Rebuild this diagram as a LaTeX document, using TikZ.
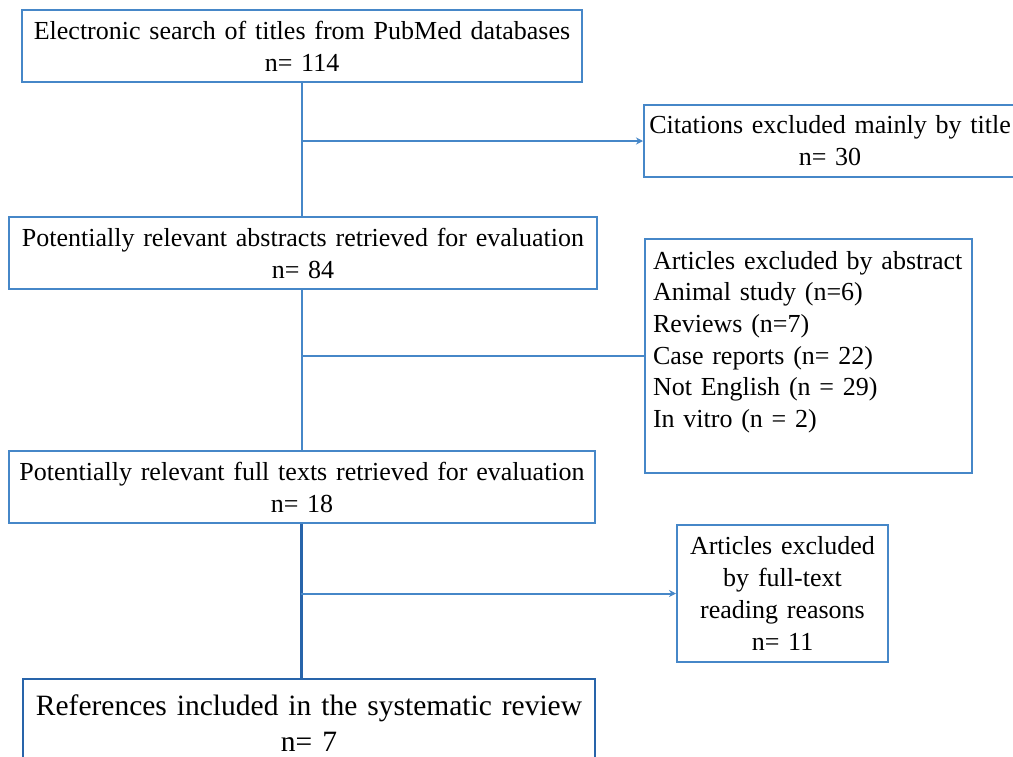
\documentclass[tikz,border=0pt]{standalone}
\usepackage{fontspec}
\setmainfont[WordSpace=1.35]{Liberation Serif}
\usetikzlibrary{arrows.meta}
\definecolor{boxblue}{RGB}{70,135,200}
\definecolor{darkblue}{RGB}{40,100,170}
\tikzset{
  box/.style={draw=boxblue, line width=2pt, fill=white, align=center, inner sep=0pt,
    font=\fontsize{26}{32}\selectfont},
  conn/.style={draw=boxblue, line width=2pt},
  arr/.style={conn, -{Stealth[length=7pt,width=7pt]}},
  thick conn/.style={draw=darkblue, line width=3pt},
}
\begin{document}
\begin{tikzpicture}[x=1pt,y=-1pt]
\useasboundingbox (0,0) rectangle (1013,756);
\clip (0,0) rectangle (1013,756);
\fill[white] (0,0) rectangle (1013,756);

\node[box, minimum width=560pt, minimum height=72pt] (s1) at (302,46)
  {Electronic search of titles from PubMed databases\\n= 114};
\node[box, minimum width=372pt, minimum height=72pt] (s2) at (830,141)
  {Citations excluded mainly by title\\n= 30};
\node[box, minimum width=588pt, minimum height=72pt] (s3) at (303,253)
  {Potentially relevant abstracts retrieved for evaluation\\n= 84};
\node[box, anchor=north west] (s4) at (644,238)
  {\parbox[t][234pt][t]{327pt}{\vspace*{12pt}\setlength{\parindent}{0pt}\leftskip=8pt\baselineskip=31.7pt
   Articles excluded by abstract\par
   Animal study (n=6)\par
   Reviews (n=7)\par
   Case reports (n= 22)\par
   Not English (n = 29)\par
   In vitro (n = 2)}};
\node[box, minimum width=586pt, minimum height=72pt] (s5) at (302,487)
  {Potentially relevant full texts retrieved for evaluation\\n= 18};
\node[box, minimum width=211pt, minimum height=137pt,
      font=\fontsize{26}{31.7}\selectfont] (s6) at (782.5,593.5)
  {Articles excluded\\by full-text\\reading reasons\\n= 11};
\node[box, draw=darkblue, line width=2.8pt, minimum width=572pt, minimum height=88pt,
      font=\fontsize{29.5}{36}\selectfont] (s7) at (309,723)
  {References included in the systematic review\\n= 7};

% connectors
\draw[conn] (s1.south) -- (s1.south |- s3.north);
\draw[arr] (s1.south |- s2.west) -- (s2.west);
\draw[conn] ([xshift=-1pt]s3.south) coordinate (t3) -- (t3 |- s5.north);
\draw[conn] (t3 |- s4.west) -- (s4.west);
\draw[thick conn] ([xshift=-1pt]s5.south) coordinate (t5) -- (t5 |- s7.north);
\draw[arr] (t5 |- s6.west) -- (s6.west);
\end{tikzpicture}
\end{document}
